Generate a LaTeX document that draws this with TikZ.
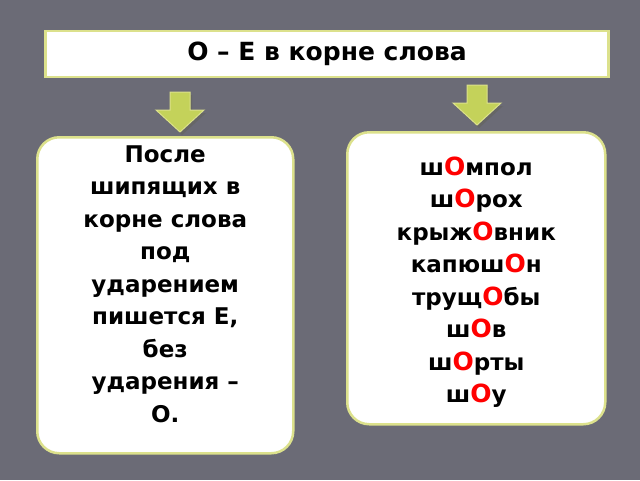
\documentclass[tikz,border=0pt]{standalone}
\usepackage{fontspec}
\setmainfont{DejaVu Sans}
\usetikzlibrary{calc}
\begin{document}
\begin{tikzpicture}[x=1pt,y=-1pt,
  txt/.style={font=\bfseries\fontsize{23}{32.5}\selectfont, align=center}]
\definecolor{bord}{RGB}{220,225,140}
\definecolor{arr}{RGB}{196,210,90}
\fill[fill={rgb,255:red,107;green,107;blue,118}] (0,0) rectangle (640,480);
\useasboundingbox (0,0) rectangle (640,480);
\node[draw=bord, line width=2.5pt, fill=white, minimum width=563, minimum height=46, txt, font=\bfseries\fontsize{25}{30}\selectfont] (title) at (327,54) {О – Е в корне слова};
\node[draw=bord, line width=2.5pt, fill=white, rounded corners=22, minimum width=256, minimum height=316, anchor=north west, inner sep=0] (left) at (36,136) {};
\node[txt, anchor=north] (lt) at (left.north) [yshift=-6] {После\\шипящих в\\корне слова\\под\\ударением\\пишется Е,\\без\\ударения –\\О.};
\node[draw=bord, line width=2.5pt, fill=white, rounded corners=22, minimum width=258, minimum height=292, anchor=north west, inner sep=0] (right) at (346,131) {};
\newcommand{\RO}{\textcolor{red}{\fontsize{25}{32.5}\selectfont О}}
\node[txt, anchor=north] (rt) at (right.north) [yshift=-22] {ш\RO мпол\\ш\RO рох\\крыж\RO вник\\капюш\RO н\\трущ\RO бы\\ш\RO в\\ш\RO рты\\ш\RO у};
\foreach \n/\cx/\ty in {a1/180/92, a2/477/85}{
  \fill[black!60] ($(\cx,\ty)+(-8,3)$) -- ++(20,0) -- ++(0,18) -- ++(14,0) -- ++(-24,22) -- ++(-24,-22) -- ++(14,0) -- cycle;
  \draw[bord, fill=arr, line width=1pt] ($(\cx,\ty)+(-10,0)$) coordinate (\n) -- ++(20,0) -- ++(0,18) -- ++(14,0) -- ++(-24,22) -- ++(-24,-22) -- ++(14,0) -- cycle;
}
\end{tikzpicture}
\end{document}
